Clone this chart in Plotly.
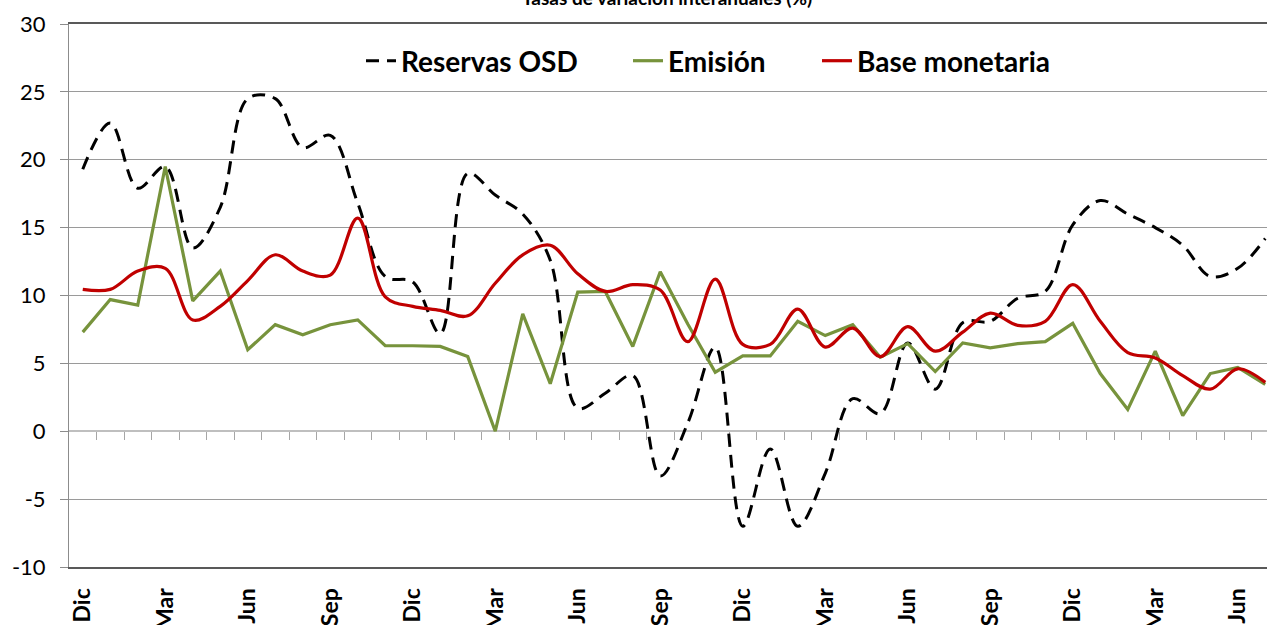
import plotly.graph_objects as go

# ---- data (monthly, Dic .. Jul, 44 points) ----
n_points = 44
tick_labels = ["Dic", "Mar", "Jun", "Sep"]
y_ticks = [-10, -5, 0, 5, 10, 15, 20, 25, 30]
y_tick_text = ["-10", "-5", "0", "5", "10", "15", "20", "25", "30"]

reservas_osd = [19.3, 22.7, 17.9, 19.5, 13.5, 16.5, 24.5, 24.5, 20.9, 21.8,
                16.8, 11.4, 11.0, 7.2, 19.0, 17.4, 16.0, 12.6, 1.7, 2.8,
                4.1, -3.3, 0.6, 6.2, -7.0, -1.3, -7.0, -3.1, 2.4, 1.3,
                6.5, 3.1, 8.0, 8.1, 9.8, 10.3, 15.2, 17.0, 16.0, 15.0,
                13.7, 11.4, 12.0, 14.2]

emision = [7.3, 9.7, 9.3, 19.5, 9.6, 11.8, 6.0, 7.85, 7.1, 7.85,
           8.2, 6.3, 6.3, 6.25, 5.5, 0.0, 8.65, 3.5, 10.25, 10.3,
           6.25, 11.75, 7.9, 4.35, 5.55, 5.55, 8.1, 7.05, 7.85, 5.45,
           6.45, 4.4, 6.5, 6.15, 6.45, 6.6, 7.95, 4.25, 1.6, 5.9,
           1.15, 4.25, 4.7, 3.45]

base_monetaria = [10.45, 10.45, 11.8, 12.0, 8.2, 9.2, 11.1, 13.0, 11.8, 11.5,
                  15.7, 9.9, 9.2, 8.9, 8.5, 10.9, 13.0, 13.7, 11.6, 10.3,
                  10.8, 10.4, 6.6, 11.2, 6.4, 6.4, 9.0, 6.2, 7.6, 5.5,
                  7.7, 5.9, 7.3, 8.7, 7.8, 8.1, 10.8, 8.1, 5.8, 5.4,
                  4.1, 3.1, 4.6, 3.6]

x = list(range(n_points))
tickvals = list(range(0, n_points, 3))
ticktext = ["<b>" + tick_labels[i % 4] + "</b>" for i in range(len(tickvals))]
boundaries = [k + 0.5 for k in range(n_points - 1)]

FONT = "Lato"
W, H = 1267, 625
ml, mt, mb = 69, 24, 58
plot_w = W - ml
cat_w = 27.5
x_range = [-0.5, -0.5 + plot_w / cat_w]
plot_h = H - mt - mb

def py2paper(py):
    return 1 - (py - mt) / plot_h

def px2paper(px):
    return (px - ml) / plot_w

fig = go.Figure()
fig.add_trace(go.Scatter(x=x, y=reservas_osd, name="Reservas OSD", mode="lines",
                         line=dict(color="#000000", width=3, dash="13px,8px", shape="spline", smoothing=1),
                         legend="legend"))
fig.add_trace(go.Scatter(x=x, y=emision, name="Emisión", mode="lines",
                         line=dict(color="#77933C", width=3.2),
                         legend="legend2"))
fig.add_trace(go.Scatter(x=x, y=base_monetaria, name="Base monetaria", mode="lines",
                         line=dict(color="#C00000", width=3.2, shape="spline", smoothing=1),
                         legend="legend3"))
# helper trace for the zero-line axis with tick marks
fig.add_trace(go.Scatter(x=[], y=[], xaxis="x2", showlegend=False, hoverinfo="skip"))

legend_common = dict(orientation="h", bgcolor="rgba(0,0,0,0)", borderwidth=0,
                     font=dict(family=FONT, size=28, color="#000000", weight="bold"),
                     yanchor="middle", xanchor="left", itemwidth=30)

fig.update_layout(
    width=W, height=H,
    margin=dict(l=ml, r=0, t=mt, b=mb),
    paper_bgcolor="white", plot_bgcolor="white",
    showlegend=True,
    legend=dict(x=px2paper(361), y=py2paper(61), **legend_common),
    legend2=dict(x=px2paper(628), y=py2paper(61), **legend_common),
    legend3=dict(x=px2paper(817), y=py2paper(61), **legend_common),
    xaxis=dict(range=x_range, tickmode="array", tickvals=tickvals, ticktext=ticktext,
               tickangle=-90, ticks="", showgrid=False, zeroline=False,
               showline=True, linecolor="#595959", linewidth=2, mirror=True,
               tickfont=dict(family=FONT, size=23, color="#000000", weight="bold"),
               ticklabelstandoff=10, automargin=False),
    xaxis2=dict(range=x_range, overlaying="x", anchor="free", position=0.25,
                side="bottom", tickmode="array", tickvals=boundaries,
                ticks="outside", ticklen=8, tickwidth=1, tickcolor="#a6a6a6",
                showticklabels=False, showgrid=False, zeroline=False,
                showline=True, linecolor="#bfbfbf", linewidth=2, layer="below traces"),
    yaxis=dict(range=[-10, 30], tickmode="array", tickvals=y_ticks, ticktext=y_tick_text,
               showgrid=True, gridcolor="#9a9a9a", gridwidth=1, zeroline=False,
               showline=True, linecolor="#8c8c8c", linewidth=1,
               ticks="outside", ticklen=8, tickcolor="#8c8c8c",
               tickfont=dict(family=FONT, size=22, color="#000000"),
               ticklabelstandoff=10, automargin=False),
    annotations=[dict(text="<b>Tasas de variación interanuales (%)</b>", xref="paper", yref="paper",
                      x=px2paper(667), y=py2paper(-3), xanchor="center", yanchor="middle",
                      showarrow=False, font=dict(family=FONT, size=19, color="#000000"))],
)

fig.write_html("out.html", config={"displayModeBar": False},
               post_script="document.body.style.margin='0px';document.body.style.overflow='hidden';")
